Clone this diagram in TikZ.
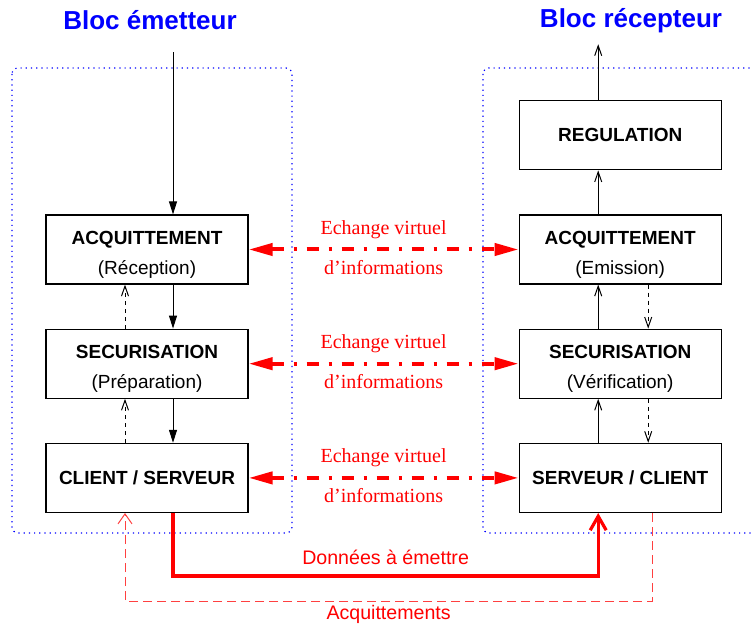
\documentclass[tikz,border=0pt]{standalone}
\usepackage{fontspec}
\setmainfont{Liberation Serif}
\setsansfont{Liberation Sans}
\usepackage{tikz}
\usetikzlibrary{arrows.meta,calc,positioning}
\definecolor{blocBlue}{HTML}{0000FF}
\definecolor{linkRed}{HTML}{FF0000}
\definecolor{ackRed}{HTML}{FF4040}
\tikzset{
  layer/.style={draw=black, line width=0.6pt, fill=white, align=center,
    minimum width=101pt, minimum height=34.5pt, inner sep=2pt,
    font=\sffamily\fontsize{9.5}{15}\selectfont},
  double layer/.style={layer, text height=27pt, text depth=2pt},
  bloc/.style={draw=blocBlue, line width=0.6pt, dotted, rounded corners=3pt},
  bloc title/.style={text=blocBlue,
    font=\sffamily\bfseries\fontsize{13}{15}\selectfont},
  flow/.style={-{Triangle[length=6.5pt,width=4pt]}, line width=0.5pt},
  stick flow/.style={-{Straight Barb[length=5pt,width=3.5pt]}, line width=0.5pt},
  back flow/.style={stick flow, dash pattern=on 2pt off 2pt},
  virtual link/.style={{Triangle[length=12pt,width=6pt]}-{Triangle[length=12pt,width=6pt]},
    draw=linkRed, line width=2pt, dash pattern=on 6pt off 5pt on 1.5pt off 5pt},
  virtual label/.style={text=linkRed, font=\fontsize{10}{12}\selectfont},
  data link/.style={-{Straight Barb[length=7pt,width=8pt]}, draw=linkRed,
    line width=1.6pt},
  ack link/.style={-{Straight Barb[length=5pt,width=7pt]}, draw=ackRed,
    line width=0.5pt, dash pattern=on 4.5pt off 2.5pt},
  link label/.style={text=linkRed, font=\sffamily\fontsize{9.8}{12}\selectfont}
}

\begin{document}
\begin{tikzpicture}[x=0.5pt, y=-0.5pt, node distance=22pt and 135pt]
  \useasboundingbox (0,0) rectangle (753,624);
  % blocs
  \draw[bloc] (12,68) rectangle (292,533);
  \draw[bloc] (483,68) rectangle (790,533);
  \node[bloc title] (titleE) at (150,20) {Bloc émetteur};
  \node[bloc title] (titleR) at (631,21) {Bloc récepteur};
  % emetteur
  \node[double layer] (acqE) at (147,249.5) {\textbf{ACQUITTEMENT}\\(Réception)};
  \node[double layer, below=of acqE] (secE) {\textbf{SECURISATION}\\(Préparation)};
  \node[layer, below=of secE] (cliE) {\textbf{CLIENT / SERVEUR}};
  % recepteur
  \node[double layer, right=of acqE] (acqR) {\textbf{ACQUITTEMENT}\\(Emission)};
  \node[layer, above=of acqR] (regR) {\textbf{REGULATION}};
  \node[double layer, below=of acqR] (secR) {\textbf{SECURISATION}\\(Vérification)};
  \node[layer, below=of secR] (srvR) {\textbf{SERVEUR / CLIENT}};
  \coordinate (in) at ($(acqE.north)+(26,-162)$);
  \coordinate (out) at ($(regR.north)+(-22,-56)$);
  % flux internes
  \draw[flow] (in) -- ([xshift=13pt]acqE.north);
  \draw[flow] ([xshift=13pt]acqE.south) -- ([xshift=13pt]secE.north);
  \draw[flow] ([xshift=13pt]secE.south) -- ([xshift=13pt]cliE.north);
  \draw[back flow] ([xshift=-11pt]cliE.north) -- ([xshift=-11pt]secE.south);
  \draw[back flow] ([xshift=-11pt]secE.north) -- ([xshift=-11pt]acqE.south);
  \draw[stick flow] ([xshift=-11pt]srvR.north) -- ([xshift=-11pt]secR.south);
  \draw[stick flow] ([xshift=-11pt]secR.north) -- ([xshift=-11pt]acqR.south);
  \draw[stick flow] ([xshift=-11pt]acqR.north) -- ([xshift=-11pt]regR.south);
  \draw[stick flow] ([xshift=-11pt]regR.north) -- (out);
  \draw[back flow] ([xshift=14pt]acqR.south) -- ([xshift=14pt]secR.north);
  \draw[back flow] ([xshift=14pt]secR.south) -- ([xshift=14pt]srvR.north);
  % echanges virtuels
  \draw[virtual link] (acqE) -- node[virtual label, yshift=10pt] {Echange virtuel}
    node[virtual label, yshift=-9pt] {d'informations} (acqR);
  \draw[virtual link] (secE) -- node[virtual label, yshift=10pt] {Echange virtuel}
    node[virtual label, yshift=-9pt] {d'informations} (secR);
  \draw[virtual link] (cliE) -- node[virtual label, yshift=10pt] {Echange virtuel}
    node[virtual label, yshift=-9pt] {d'informations} (srvR);
  % liaison physique
  \coordinate (dataOut) at ([xshift=13pt]cliE.south);
  \coordinate (dataIn) at ([xshift=-11pt]srvR.south);
  \coordinate (ackOut) at ([xshift=16pt]srvR.south);
  \coordinate (ackIn) at ([xshift=-11pt]cliE.south);
  \draw[data link] (dataOut) -- ++(0,63) -|
    node[link label, pos=0.25, yshift=9.5pt] {Données à émettre} (dataIn);
  \draw[ack link] (ackOut) -- ++(0,88) -|
    node[link label, pos=0.25, yshift=-6.5pt] {Acquittements} (ackIn);
\end{tikzpicture}
\end{document}
